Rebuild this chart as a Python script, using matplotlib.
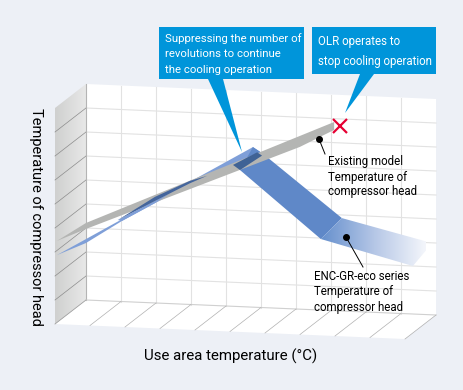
import numpy as np
import matplotlib
matplotlib.use('Agg')
import matplotlib.pyplot as plt
from matplotlib.colors import LinearSegmentedColormap
from matplotlib.patches import Polygon

plt.rcParams['font.family'] = ['Roboto', 'Liberation Sans', 'DejaVu Sans']

# values in chart units: temperature cell, head cell
existing_top_x = [-0.83, 0.0, 7.09]
existing_top_y = [2.41, 3.21, 7.86]
existing_low_x = [7.09, 6.11, 0.0]
existing_low_y = [7.53, 6.76, 2.96]

eco_rise_x = [-0.83, 4.77, 4.97, 4.40, 4.20, 2.97, 1.97, 1.03, 0.0]
eco_rise_y = [1.82, 6.67, 6.48, 5.69, 5.89, 4.98, 4.16, 3.36, 2.375]
eco_fall_x = [4.77, 5.03, 7.31, 6.71, 4.40]
eco_fall_y = [6.67, 6.44, 3.87, 2.96, 5.69]
eco_flat_x = [7.31, 9.89, 9.34, 6.71]
eco_flat_y = [3.87, 2.99, 2.00, 2.96]

strip_x = [0.91, 1.97, 2.40, 1.97, 1.03]
strip_y = [3.39, 4.25, 4.59, 4.16, 3.36]
overlap_x = [0.91, 1.97, 2.97, 3.46, 2.97, 1.97]
overlap_y = [3.39, 4.42, 5.15, 5.39, 5.05, 4.25]
fold_x = [4.20, 4.40, 5.03, 4.89]
fold_y = [5.89, 5.69, 6.33, 6.46]

fail_x = 7.26
fail_y = 7.70

n_temp = 10
n_head = 9


def proj(u, v, z=0.0):
    u = np.asarray(u, dtype=float)
    v = np.asarray(v, dtype=float)
    z = np.asarray(z, dtype=float)
    return 86 + 35 * u - 31 * z, 300 + 1.5 * u - 24 * v + 24 * z


def band(ax, xs, ys, color, zorder):
    px, py = proj(xs, ys)
    p = Polygon(np.column_stack([px, py]), closed=True, fc=color, ec='none', zorder=zorder)
    ax.add_patch(p)
    return p


fig = plt.figure(figsize=(4.63, 3.9), dpi=100, facecolor='#edf0f6')
ax = fig.add_axes([0, 0, 1, 1])
ax.set_facecolor('#edf0f6')
ax.axis('off')

# back wall and floor
wx, wy = proj([0, n_temp, n_temp, 0], [n_head, n_head, 0, 0])
ax.add_patch(Polygon(np.column_stack([wx, wy]), fc='white', ec='none', zorder=1))
fx, fy = proj([0, n_temp, n_temp, 0], [0, 0, 0, 0], [0, 0, 1, 1])
ax.add_patch(Polygon(np.column_stack([fx, fy]), fc='white', ec='none', zorder=1))

# left wall with gradient
lx, ly = proj([0, 0, 0, 0], [n_head, n_head, 0, 0], [0, 1, 1, 0])
left = Polygon(np.column_stack([lx, ly]), fc='none', ec='none', zorder=2)
ax.add_patch(left)
wall_cmap = LinearSegmentedColormap.from_list('wall', ['#cfd0cf', '#e8e8e8'])
im = ax.imshow(np.linspace(0, 1, 64).reshape(1, -1), cmap=wall_cmap, aspect='auto',
               extent=[55, 86, 324, 84], zorder=2)
im.set_clip_path(left)

# grid
for i in range(1, n_temp):
    x, y = proj([i, i], [0, n_head])
    ax.plot(x, y, color='#e2e2e2', lw=0.8, zorder=3)
for j in range(1, n_head):
    x, y = proj([0, n_temp], [j, j])
    ax.plot(x, y, color='#e2e2e2', lw=0.8, zorder=3)
    x, y = proj([0, 0], [j, j], [0, 1])
    ax.plot(x, y, color='#8c8c8c', lw=0.5, zorder=3)
x, y = proj([0, 0], [0, n_head])
ax.plot(x, y, color='#b4b4b4', lw=0.8, zorder=3)
x, y = proj([0, n_temp], [0, 0])
ax.plot(x, y, color='#d0d0d0', lw=0.8, zorder=3)
for i in range(1, n_temp + 1):
    x, y = proj([i, i], [0, 0], [0, 1])
    ax.plot(x, y, color='#b0b0b0', lw=0.5, zorder=3)
x, y = proj([0, 0], [0, 0], [0, 1])
ax.plot(x, y, color='#a0a0a0', lw=0.6, zorder=3)

# bands
band(ax, eco_rise_x, eco_rise_y, '#7f9fd8', 4)
band(ax, eco_fall_x, eco_fall_y, '#5f88c8', 5)
flat = band(ax, eco_flat_x, eco_flat_y, 'none', 5)
flat_cmap = LinearSegmentedColormap.from_list('flat', ['#6690cd', '#b4c6e6', '#f4f6fb'])
im2 = ax.imshow(np.linspace(0, 1, 128).reshape(1, -1), cmap=flat_cmap, aspect='auto',
                extent=[321, 426, 270, 215], zorder=5)
im2.set_clip_path(flat)
band(ax, existing_top_x + existing_low_x, existing_top_y + existing_low_y, '#b4b5b3', 6)
band(ax, strip_x, strip_y, '#7f9fd8', 7)
band(ax, overlap_x, overlap_y, '#44659c', 7)
band(ax, fold_x, fold_y, '#3f6295', 7)

# failure mark
mx, my = proj(fail_x, fail_y)
ax.plot(mx, my, marker='x', ms=10, mew=1.6, color='#e60033', zorder=9)

# callouts
blue = '#0095da'
ax.add_patch(Polygon([(159, 27), (304, 27), (304, 79), (223, 79), (242, 152), (208, 79), (159, 79)],
                     fc=blue, ec='none', zorder=10))
ax.add_patch(Polygon([(312, 27), (436, 27), (436, 74), (374, 74), (345, 113), (360, 74), (312, 74)],
                     fc=blue, ec='none', zorder=10))
for txt, y in [('Suppressing the number of', 39), ('revolutions to continue', 54), ('the cooling operation', 70)]:
    ax.text(165, y, txt, color='white', fontsize=8.2, va='center', zorder=11)
for txt, y in [('OLR operates to', 42), ('stop cooling operation', 61)]:
    ax.text(318, y, txt, color='white', fontsize=8.3, va='center', zorder=11)

# leaders and labels
ax.plot([319, 325], [139, 154], color='black', lw=0.7, zorder=8)
ax.plot(319, 139, 'o', color='black', ms=4, zorder=8)
ax.plot([346, 363], [237, 267], color='black', lw=0.7, zorder=8)
ax.plot(346, 237, 'o', color='black', ms=4, zorder=8)
for txt, y in [('Existing model', 162), ('Temperature of', 177), ('compressor head', 192)]:
    ax.text(328, y, txt, color='black', fontsize=8.3, va='center', zorder=11)
for txt, y in [('ENC-GR-eco series', 277), ('Temperature of', 292), ('compressor head', 308)]:
    ax.text(314, y, txt, color='black', fontsize=8.3, va='center', zorder=11)

ax.text(231, 356, 'Use area temperature (°C)', fontsize=10.8, ha='center', va='center')
ax.text(36, 217, 'Temperature of compressor head', fontsize=10.5, rotation=270, ha='center', va='center')

ax.set_xlim(0, 463)
ax.set_ylim(390, 0)
fig.savefig('out.png', dpi=100, facecolor=fig.get_facecolor())
